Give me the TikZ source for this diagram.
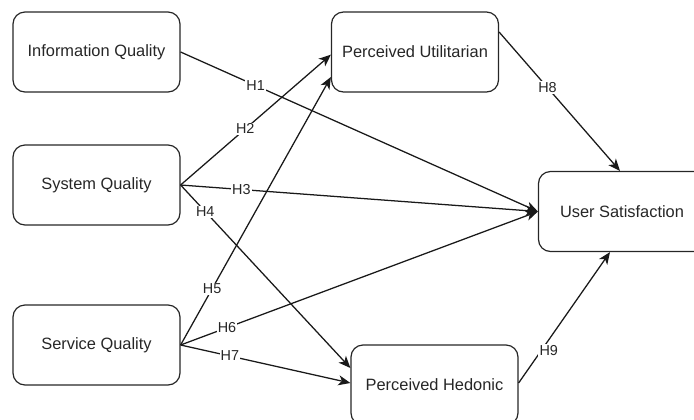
\documentclass[tikz,border=0pt]{standalone}
\usepackage{fontspec}
\setmainfont{Liberation Sans}
\usetikzlibrary{arrows.meta}
\begin{document}
\begin{tikzpicture}[x=0.75pt,y=-0.75pt,
  box/.style={draw=black!85, line width=0.9pt, rounded corners=9pt, minimum width=125.25pt, minimum height=60pt, inner sep=0pt, font=\fontsize{12.3}{14}\selectfont, text=black!85},
  conn/.style={draw=black!90, line width=0.95pt, -{Stealth[length=9pt,width=7.5pt,inset=2.5pt]}},
  lbl/.style={fill=white, inner sep=0.8pt, font=\fontsize{10.8}{12}\selectfont, text=black!85}]
\useasboundingbox (0,0) rectangle (694,419);
\node[box] (iq) at (96.5,52) {Information Quality};
\node[box] (sq) at (96.5,185) {System Quality};
\node[box] (svc) at (96.5,345) {Service Quality};
\node[box] (pu) at (415,52) {Perceived Utilitarian};
\node[box] (us) at (622,211.5) {User Satisfaction};
\node[box] (ph) at (434.5,385) {Perceived Hedonic};
\draw[conn] (iq.east) -- node[lbl,pos=0.21] {H1} (us.west);
\draw[conn] (sq.east) -- node[lbl,pos=0.43] {H2} ([yshift=-2pt]pu.west);
\draw[conn] (sq.east) -- node[lbl,pos=0.17] {H3} (us.west);
\draw[conn] (sq.east) -- node[lbl,pos=0.145] {H4} ([yshift=12.75pt]ph.west);
\draw[conn] (svc.east) -- node[lbl,pos=0.21] {H5} ([yshift=-18.75pt]pu.west);
\draw[conn] (svc.east) -- node[lbl,pos=0.13] {H6} (us.west);
\draw[conn] (svc.east) -- node[lbl,pos=0.29] {H7} ([yshift=1.5pt]ph.west);
\draw[conn] ([yshift=15pt]pu.east) -- node[lbl,pos=0.4] {H8} ([xshift=-1.5pt]us.north);
\draw[conn] ([yshift=1.5pt]ph.east) -- node[lbl,pos=0.33,yshift=-8pt] {H9} ([xshift=-9pt]us.south);
\end{tikzpicture}
\end{document}
